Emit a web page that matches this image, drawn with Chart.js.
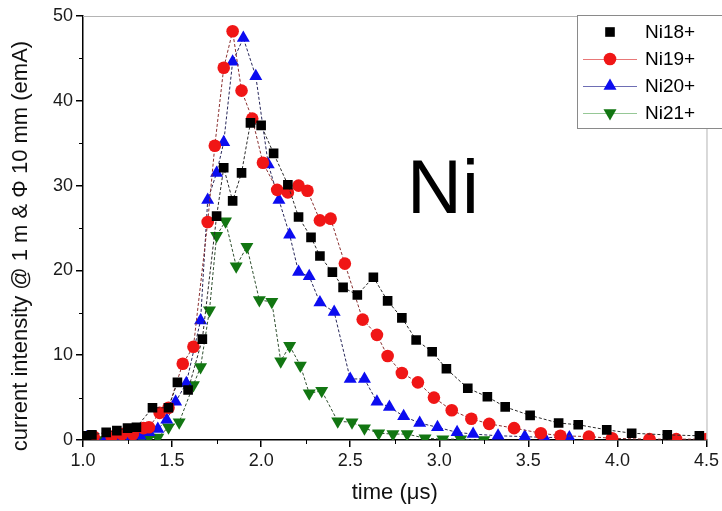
<!DOCTYPE html>
<html>
<head>
<meta charset="utf-8">
<script src="https://cdn.jsdelivr.net/npm/chart.js@4/dist/chart.umd.min.js"></script>
<style>
html, body { margin: 0; padding: 0; background: #fff; }
</style>
</head>
<body>
<canvas id="myChart" width="722" height="511"></canvas>
<script>
// Ni18+
const ni18Time = [1.02, 1.05, 1.13, 1.19, 1.25, 1.30, 1.39, 1.48, 1.53, 1.59, 1.67, 1.75, 1.79, 1.84, 1.89, 1.94, 2.00, 2.07, 2.15, 2.21, 2.28, 2.33, 2.40, 2.46, 2.54, 2.63, 2.71, 2.79, 2.87, 2.96, 3.04, 3.16, 3.27, 3.37, 3.51, 3.67, 3.78, 3.94, 4.08, 4.28, 4.46];
const ni18Current = [0.5, 0.6, 0.9, 1.1, 1.4, 1.5, 3.8, 3.8, 6.8, 5.9, 11.9, 26.4, 32.1, 28.2, 31.5, 37.4, 37.1, 33.8, 30.1, 26.3, 23.9, 21.7, 19.8, 18.0, 17.1, 19.2, 16.4, 14.4, 11.8, 10.4, 8.4, 6.1, 5.1, 3.9, 2.9, 2.0, 1.8, 1.2, 0.8, 0.6, 0.5];
// Ni19+
const ni19Time = [1.02, 1.06, 1.16, 1.22, 1.28, 1.34, 1.37, 1.43, 1.48, 1.56, 1.62, 1.70, 1.74, 1.79, 1.84, 1.89, 1.95, 2.01, 2.09, 2.15, 2.21, 2.26, 2.33, 2.39, 2.47, 2.57, 2.65, 2.71, 2.79, 2.88, 2.97, 3.07, 3.18, 3.28, 3.42, 3.57, 3.68, 3.84, 3.97, 4.18, 4.33, 4.50];
const ni19Current = [0.3, 0.4, 0.4, 0.7, 0.7, 1.4, 1.5, 3.2, 3.8, 9.0, 11.0, 25.7, 34.7, 43.9, 48.2, 41.2, 37.9, 32.7, 29.5, 29.2, 30.0, 29.4, 25.9, 26.1, 20.8, 14.2, 12.4, 9.9, 7.9, 6.8, 5.0, 3.5, 2.5, 1.9, 1.4, 0.8, 0.5, 0.4, 0.2, 0.1, 0.1, 0.1];
// Ni20+
const ni20Time = [1.02, 1.07, 1.13, 1.20, 1.27, 1.32, 1.37, 1.42, 1.47, 1.52, 1.58, 1.66, 1.70, 1.75, 1.79, 1.84, 1.90, 1.97, 2.04, 2.10, 2.16, 2.21, 2.27, 2.33, 2.41, 2.50, 2.58, 2.65, 2.72, 2.80, 2.89, 2.99, 3.10, 3.19, 3.33, 3.48, 3.59, 3.73];
const ni20Current = [0.3, 0.2, 0.2, 0.2, 0.3, 0.5, 0.9, 1.3, 2.4, 4.5, 6.7, 14.1, 28.3, 31.5, 35.1, 44.6, 47.4, 42.9, 32.5, 28.3, 24.2, 19.8, 19.3, 16.2, 15.1, 7.2, 7.2, 4.5, 3.9, 2.8, 2.0, 1.5, 0.9, 0.7, 0.5, 0.4, 0.3, 0.3];
// Ni21+
const ni21Time = [1.02, 1.10, 1.21, 1.28, 1.33, 1.37, 1.42, 1.48, 1.54, 1.62, 1.66, 1.71, 1.75, 1.80, 1.86, 1.92, 1.99, 2.06, 2.11, 2.16, 2.22, 2.27, 2.34, 2.43, 2.51, 2.58, 2.66, 2.74, 2.82, 2.92, 3.02, 3.12, 3.25];
const ni21Current = [0.1, 0.0, 0.0, 0.2, 0.2, 0.3, 0.3, 1.5, 2.1, 6.5, 8.6, 15.3, 24.1, 25.8, 20.5, 22.8, 16.5, 16.3, 9.3, 11.1, 8.8, 5.5, 5.8, 2.2, 2.1, 1.4, 0.8, 0.7, 0.7, 0.2, 0.1, 0.1, 0.0];

const seriesLabels = ['Ni18+', 'Ni19+', 'Ni20+', 'Ni21+'];
const xTicks = [1.0, 1.5, 2.0, 2.5, 3.0, 3.5, 4.0, 4.5];
const yTicks = [0, 10, 20, 30, 40, 50];

const FONT = "'Liberation Sans', Arial, sans-serif";

const toPoints = (t, v) => t.map((x, i) => ({ x: x, y: v[i] }));

// legend line colours (lighter than plot lines)
const legendLine = [null, 'rgb(232,120,120)', 'rgb(110,110,180)', 'rgb(150,200,150)'];

function drawMarker(ctx, ds, x, y) {
    const r = ds.pointRadius;
    ctx.fillStyle = ds.pointBackgroundColor;
    ctx.beginPath();
    if (ds.pointStyle === 'rect') {
        const s = r * Math.SQRT1_2;
        ctx.rect(x - s, y - s, 2 * s, 2 * s);
    } else if (ds.pointStyle === 'circle') {
        ctx.arc(x, y, r, 0, Math.PI * 2);
    } else {
        const dir = ds.pointRotation === 180 ? -1 : 1;
        const w = r * Math.sqrt(3) / 2;
        ctx.moveTo(x, y - dir * r);
        ctx.lineTo(x + w, y + dir * r / 2);
        ctx.lineTo(x - w, y + dir * r / 2);
        ctx.closePath();
    }
    ctx.fill();
}

const extras = {
    id: 'extras',
    afterDraw(chart) {
        const { ctx, chartArea: { left, right, top, bottom }, scales: { x, y } } = chart;
        ctx.save();
        // minor ticks
        ctx.strokeStyle = '#000';
        ctx.lineWidth = 1;
        ctx.beginPath();
        for (let i = 0; i < xTicks.length - 1; i++) {
            const px = Math.round(x.getPixelForValue((xTicks[i] + xTicks[i + 1]) / 2)) + 0.5;
            ctx.moveTo(px, bottom); ctx.lineTo(px, bottom + 4);
        }
        for (let i = 0; i < yTicks.length - 1; i++) {
            const py = Math.round(y.getPixelForValue((yTicks[i] + yTicks[i + 1]) / 2)) + 0.5;
            ctx.moveTo(left, py); ctx.lineTo(left - 4, py);
        }
        ctx.stroke();
        // top / right frame
        ctx.strokeStyle = '#b4b4b4';
        ctx.beginPath();
        ctx.moveTo(left, top + 0.5);
        ctx.lineTo(right + 0.5, top + 0.5);
        ctx.lineTo(right + 0.5, bottom);
        ctx.stroke();

        // big label
        ctx.fillStyle = '#000';
        ctx.font = '76px ' + FONT;
        ctx.textBaseline = 'alphabetic';
        ctx.textAlign = 'left';
        ctx.fillText('Ni', 407, 213);

        // legend
        const bx = 577, by = 15, bw = 150, bh = 113;
        ctx.fillStyle = '#fff';
        ctx.fillRect(bx, by, bw, bh);
        ctx.strokeStyle = '#8a8a8a';
        ctx.strokeRect(bx + 0.5, by + 0.5, bw, bh);
        ctx.font = '19px ' + FONT;
        ctx.textBaseline = 'middle';
        chart.data.datasets.forEach((ds, i) => {
            const ly = 32 + i * 27;
            if (legendLine[i]) {
                ctx.strokeStyle = legendLine[i];
                ctx.lineWidth = 1;
                ctx.beginPath();
                ctx.moveTo(583, ly + 0.5); ctx.lineTo(637, ly + 0.5);
                ctx.stroke();
            }
            drawMarker(ctx, ds, 610, ly);
            ctx.fillStyle = '#000';
            ctx.fillText(ds.label, 645, ly + 1);
        });
        ctx.restore();
    }
};

// y title sits a bit below the plot centre in the original
const yTitle = {
    id: 'yTitle',
    afterDraw(chart) {
        const { ctx } = chart;
        ctx.save();
        ctx.translate(21, 246);
        ctx.rotate(-Math.PI / 2);
        ctx.font = '22px ' + FONT;
        ctx.fillStyle = '#111';
        ctx.textAlign = 'center';
        ctx.textBaseline = 'middle';
        ctx.fillText('current intensity @ 1 m & Φ 10 mm (emA)', 0, 0);
        ctx.restore();
    }
};

const cht = document.getElementById('myChart');

const chart = new Chart(cht, {
    type: 'scatter',
    data: {
        datasets: [{
            label: seriesLabels[0],
            data: toPoints(ni18Time, ni18Current),
            showLine: true,
            borderColor: '#2a2a2a',
            borderWidth: 1,
            borderDash: [3, 2],
            pointStyle: 'rect',
            pointRadius: 6.8,
            pointBackgroundColor: '#000',
            pointBorderWidth: 0
        }, {
            label: seriesLabels[1],
            data: toPoints(ni19Time, ni19Current),
            showLine: true,
            borderColor: '#8a3030',
            borderWidth: 1,
            borderDash: [3, 2],
            pointStyle: 'circle',
            pointRadius: 6.3,
            pointBackgroundColor: 'rgb(240,22,22)',
            pointBorderWidth: 0
        }, {
            label: seriesLabels[2],
            data: toPoints(ni20Time, ni20Current),
            showLine: true,
            borderColor: '#26265a',
            borderWidth: 1,
            borderDash: [3, 2],
            pointStyle: 'triangle',
            pointRadius: 7.5,
            pointBackgroundColor: 'rgb(12,12,240)',
            pointBorderWidth: 0
        }, {
            label: seriesLabels[3],
            data: toPoints(ni21Time, ni21Current),
            showLine: true,
            borderColor: '#2f4f2f',
            borderWidth: 1,
            borderDash: [3, 2],
            pointStyle: 'triangle',
            pointRotation: 180,
            pointRadius: 7.5,
            pointBackgroundColor: 'rgb(18,118,18)',
            pointBorderWidth: 0
        }]
    },
    options: {
        responsive: false,
        animation: false,
        layout: { padding: { top: 16, right: 11, left: 0, bottom: 0 } },
        plugins: {
            legend: { display: false },
            tooltip: { enabled: false }
        },
        scales: {
            x: {
                type: 'linear',
                min: xTicks[0],
                max: xTicks[xTicks.length - 1],
                afterBuildTicks: s => { s.ticks = xTicks.map(v => ({ value: v })); },
                ticks: {
                    callback: v => Number(v).toFixed(1),
                    font: { family: FONT, size: 18 },
                    color: '#1a1a1a',
                    padding: 3,
                    maxRotation: 0,
                    autoSkip: false
                },
                grid: { drawOnChartArea: false, tickLength: 7, color: '#000', lineWidth: 1.5 },
                border: { color: '#000', width: 1.5 },
                title: {
                    display: true,
                    text: 'time (μs)',
                    font: { family: FONT, size: 22 },
                    color: '#111',
                    padding: { top: 0, bottom: 5 }
                },
                afterFit: s => { s.height = 71; }
            },
            y: {
                min: yTicks[0],
                max: yTicks[yTicks.length - 1],
                afterBuildTicks: s => { s.ticks = yTicks.map(v => ({ value: v })); },
                ticks: {
                    font: { family: FONT, size: 18 },
                    color: '#1a1a1a',
                    padding: 3
                },
                grid: { drawOnChartArea: false, tickLength: 7, color: '#000', lineWidth: 1.5 },
                border: { color: '#000', width: 1.5 },
                afterFit: s => { s.width = 83; }
            }
        }
    },
    plugins: [extras, yTitle]
});
</script>
</body>
</html>
